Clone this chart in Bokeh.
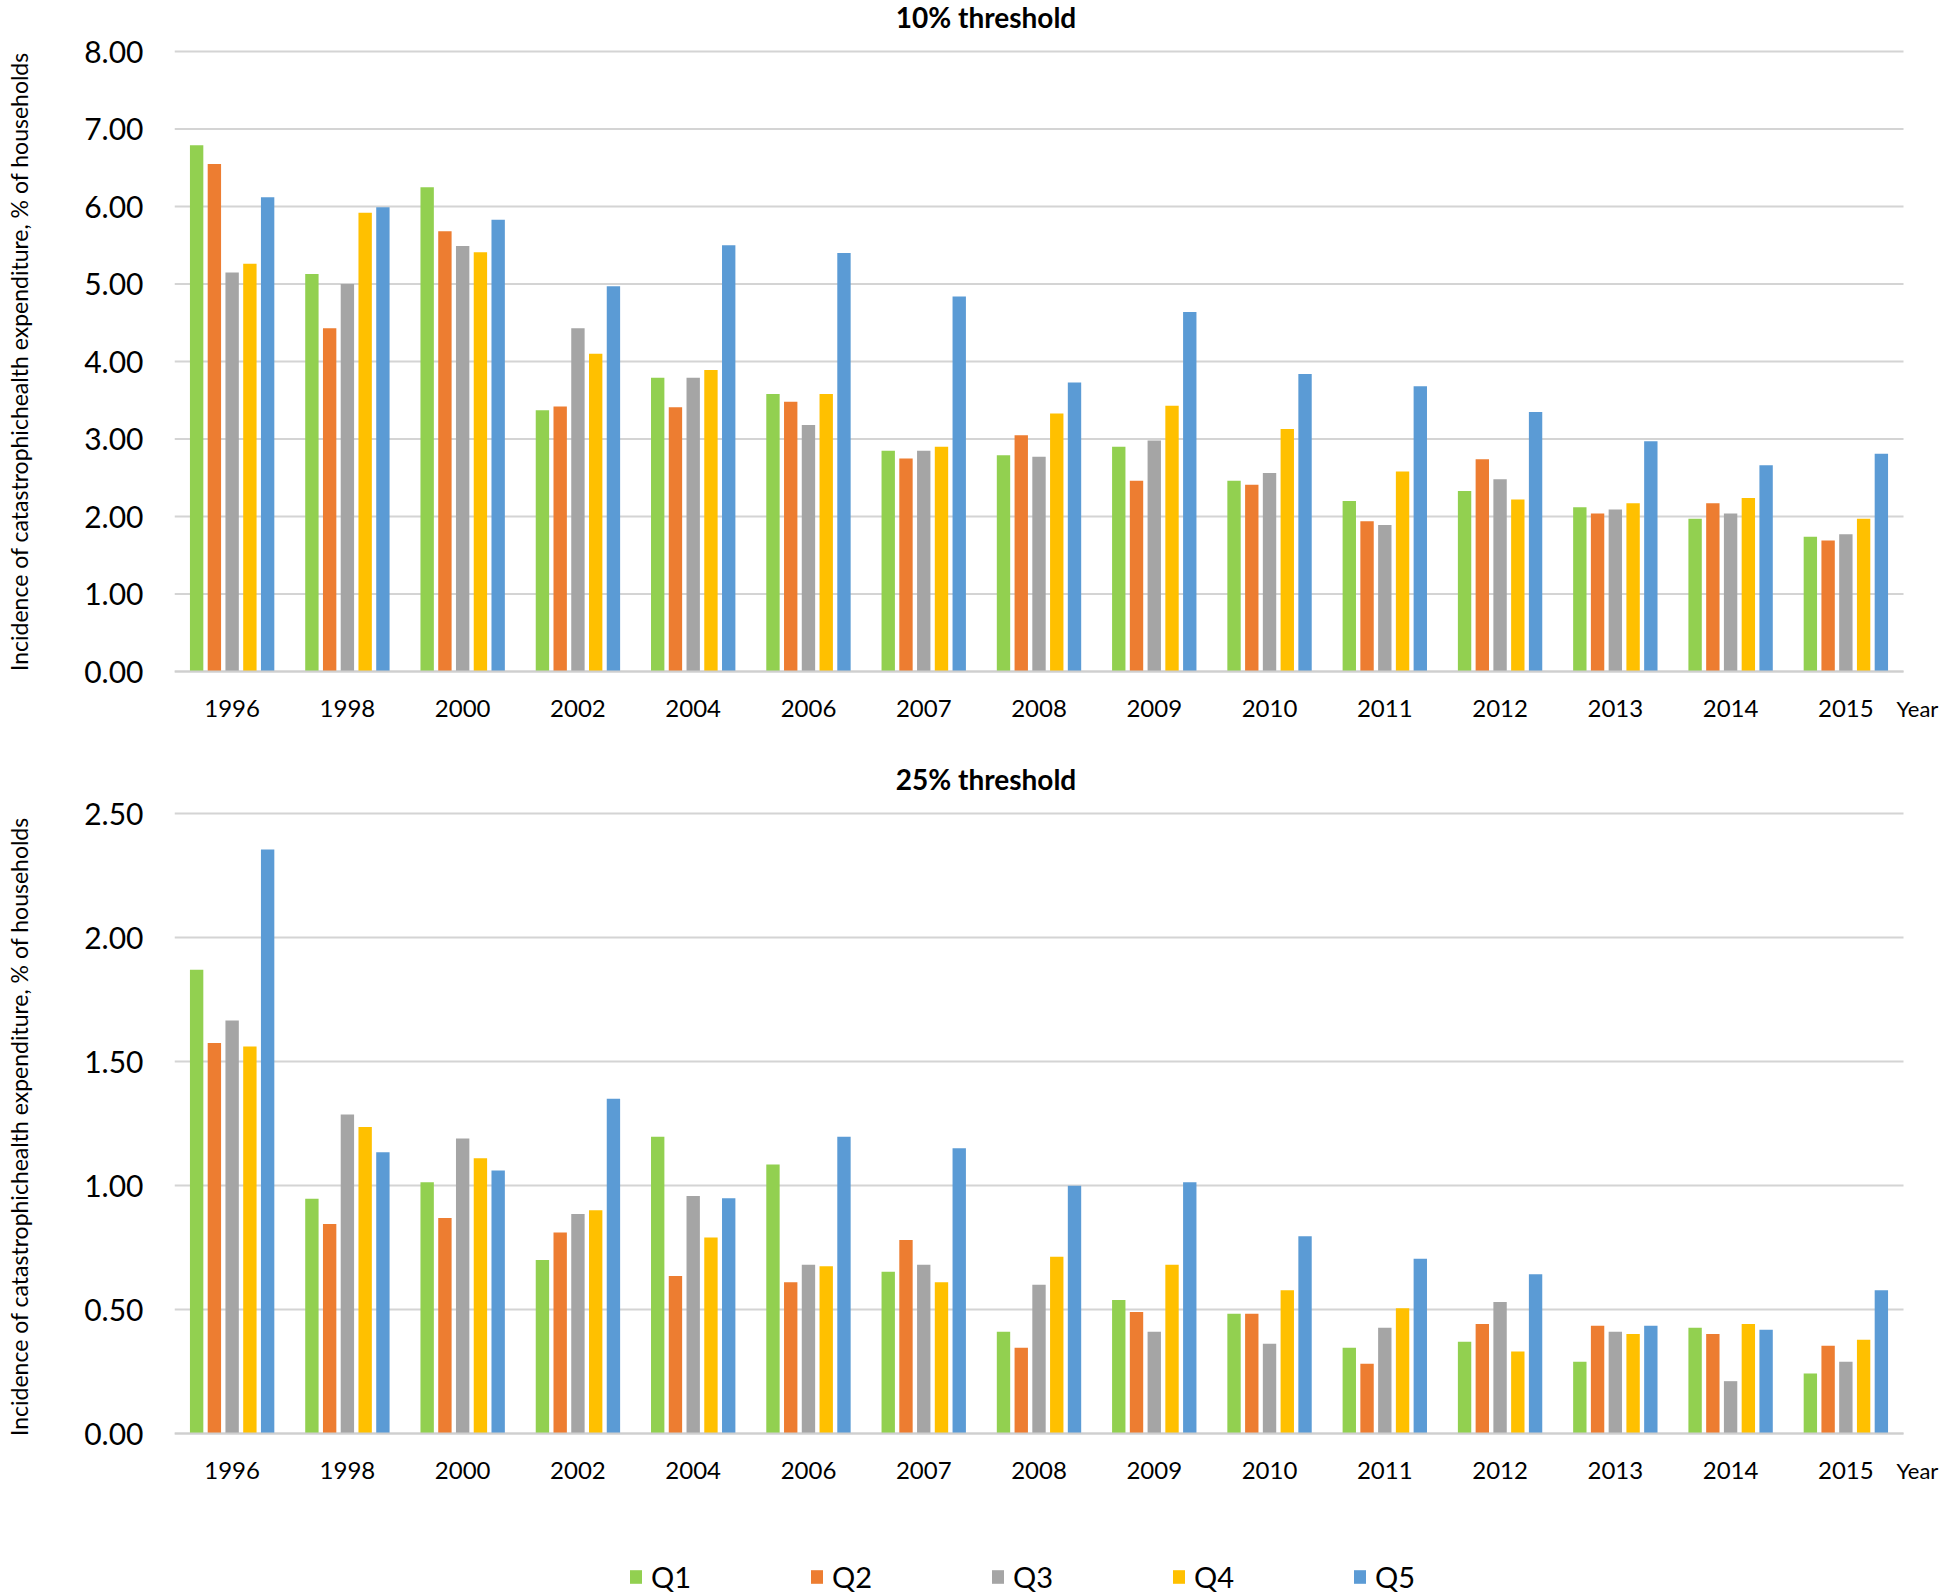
from bokeh.plotting import figure
from bokeh.models import (Range1d, FixedTicker, Legend, LegendItem,
                          NumeralTickFormatter, ColumnDataSource)
from bokeh.core.properties import value
from bokeh.transform import dodge
from bokeh.layouts import column
from bokeh.embed import file_html
from bokeh.resources import INLINE

years = ["1996", "1998", "2000", "2002", "2004", "2006", "2007", "2008",
         "2009", "2010", "2011", "2012", "2013", "2014", "2015"]
quintiles = ["Q1", "Q2", "Q3", "Q4", "Q5"]
colors = ["#92d050", "#ed7d31", "#a5a5a5", "#ffc000", "#5b9bd5"]

# 10% threshold
t10_q1 = [6.79, 5.13, 6.25, 3.37, 3.79, 3.58, 2.85, 2.79, 2.90, 2.46, 2.20, 2.33, 2.12, 1.97, 1.74]
t10_q2 = [6.55, 4.43, 5.68, 3.42, 3.41, 3.48, 2.75, 3.05, 2.46, 2.41, 1.94, 2.74, 2.04, 2.17, 1.69]
t10_q3 = [5.15, 5.00, 5.49, 4.43, 3.79, 3.18, 2.85, 2.77, 2.98, 2.56, 1.89, 2.48, 2.09, 2.04, 1.77]
t10_q4 = [5.26, 5.92, 5.41, 4.10, 3.89, 3.58, 2.90, 3.33, 3.43, 3.13, 2.58, 2.22, 2.17, 2.24, 1.97]
t10_q5 = [6.12, 5.99, 5.83, 4.97, 5.50, 5.40, 4.84, 3.73, 4.64, 3.84, 3.68, 3.35, 2.97, 2.66, 2.81]
t10_ticks = [0, 1, 2, 3, 4, 5, 6, 7, 8]

# 25% threshold
t25_q1 = [1.87, 0.947, 1.013, 0.70, 1.197, 1.085, 0.652, 0.41, 0.538, 0.483, 0.346, 0.37, 0.289, 0.426, 0.242]
t25_q2 = [1.575, 0.845, 0.869, 0.81, 0.635, 0.61, 0.78, 0.346, 0.49, 0.483, 0.281, 0.442, 0.434, 0.401, 0.354]
t25_q3 = [1.665, 1.286, 1.19, 0.885, 0.958, 0.68, 0.68, 0.60, 0.41, 0.362, 0.426, 0.53, 0.41, 0.211, 0.289]
t25_q4 = [1.56, 1.236, 1.11, 0.90, 0.79, 0.674, 0.61, 0.713, 0.68, 0.578, 0.505, 0.331, 0.401, 0.442, 0.378]
t25_q5 = [2.355, 1.134, 1.06, 1.35, 0.949, 1.197, 1.15, 0.999, 1.013, 0.795, 0.705, 0.642, 0.434, 0.418, 0.578]
t25_ticks = [0, 0.5, 1.0, 1.5, 2.0, 2.5]

y_title = "Incidence of catastrophichealth expenditure, % of households"
x_end_label = "Year"
FONT = "Lato"

# layout (pixels)
W = 1946
LEFT = 174            # left border holding the y axis
PLOT_W = 1729         # width of the bar area (15 categories)
PLOT_H = 620          # height between 0 and the top tick


def make_fig(title, series, ticks, height, pad_top, pad_bottom):
    n = len(years)
    ymax = ticks[-1]
    ppu = PLOT_H / ymax
    ppx = PLOT_W / n
    xc = [i + 0.5 for i in range(n)]
    src = ColumnDataSource(dict(x=xc, **{q: s for q, s in zip(quintiles, series)}))

    p = figure(x_range=Range1d(0, (W - LEFT) / ppx),
               y_range=Range1d(-pad_bottom / ppu, ymax + pad_top / ppu),
               title=None, width=W, height=height, output_backend="svg",
               toolbar_location=None, min_border_left=LEFT, min_border_right=0,
               min_border_top=0, min_border_bottom=0)
    p.outline_line_color = None
    p.background_fill_color = "white"
    p.border_fill_color = "white"
    p.xgrid.visible = False
    p.ygrid.visible = False

    # horizontal gridlines over the category span only
    p.segment(x0=[0] * len(ticks), x1=[n] * len(ticks), y0=ticks, y1=ticks,
              line_color="#d4d4d4", line_width=2)

    offsets = [-0.308, -0.154, 0.0, 0.154, 0.308]
    for q, c, off in zip(quintiles, colors, offsets):
        p.vbar(x=dodge("x", off), top=q, width=0.116, source=src,
               fill_color=c, line_color=None)

    ax = p.xaxis[0]
    ax.fixed_location = 0
    ax.bounds = (0, n)
    ax.ticker = FixedTicker(ticks=xc)
    ax.major_label_overrides = {x: y for x, y in zip(xc, years)}
    ax.axis_line_color = "#cfcfcf"
    ax.axis_line_width = 2
    ax.major_tick_line_color = None
    ax.minor_tick_line_color = None
    ax.major_tick_out = 0
    ax.major_label_standoff = 28
    ax.major_label_text_font = FONT
    ax.major_label_text_font_size = "24px"
    ax.major_label_text_color = "#000000"

    ay = p.yaxis[0]
    ay.bounds = (0, ymax)
    ay.ticker = FixedTicker(ticks=ticks)
    ay.formatter = NumeralTickFormatter(format="0.00")
    ay.axis_line_color = None
    ay.major_tick_line_color = None
    ay.minor_tick_line_color = None
    ay.major_tick_out = 0
    ay.major_label_standoff = 31
    ay.major_label_text_font = FONT
    ay.major_label_text_font_size = "30px"
    ay.major_label_text_color = "#000000"
    ay.axis_label = y_title
    ay.axis_label_text_font = FONT
    ay.axis_label_text_font_size = "23px"
    ay.axis_label_text_font_style = "normal"
    ay.axis_label_text_color = "#000000"
    ay.axis_label_standoff = 48

    # "Year" at the right end of the category axis
    p.text(x=[n], y=[0], text=[x_end_label], x_offset=-7, y_offset=37,
           text_font=value(FONT), text_font_size="22px", text_color="#000000",
           text_align="left", text_baseline="middle")
    # chart title
    p.text(x=[n / 2], y=[ymax], text=[title], x_offset=-53, y_offset=-35,
           text_font=value(FONT), text_font_size="28px", text_font_style="bold",
           text_color="#000000", text_align="center", text_baseline="middle")
    return p


p1 = make_fig("10% threshold", [t10_q1, t10_q2, t10_q3, t10_q4, t10_q5],
              t10_ticks, 722, 51, 51)
p2 = make_fig("25% threshold", [t25_q1, t25_q2, t25_q3, t25_q4, t25_q5],
              t25_ticks, 808, 91, 97)

# legend strip (its frame is aligned with the charts' frames)
p3 = figure(x_range=Range1d(0, 1), y_range=Range1d(0, 1), title=None, width=W, height=64,
            output_backend="svg", toolbar_location=None, x_axis_location=None,
            y_axis_location=None, min_border_left=LEFT, min_border_right=0,
            min_border_top=0, min_border_bottom=0)
p3.outline_line_color = None
p3.xgrid.visible = False
p3.ygrid.visible = False
# zero-height keys, only used to draw the legend swatches
keys = [p3.vbar(x=[0.5], top=[0], bottom=[0], width=0.01, fill_color=c, line_color=None)
        for c in colors]
legend = Legend(items=[LegendItem(label=q, renderers=[r]) for q, r in zip(quintiles, keys)],
                orientation="horizontal", location=(454, 0),
                glyph_width=15, glyph_height=17, label_standoff=8, label_width=60,
                spacing=98, padding=0, margin=0, border_line_color=None,
                background_fill_alpha=0, label_text_font=FONT,
                label_text_font_size="29px", label_text_color="#000000")
p3.add_layout(legend)

layout = column(p1, p2, p3, spacing=0)
open("out.html", "w").write(file_html(layout, INLINE))
